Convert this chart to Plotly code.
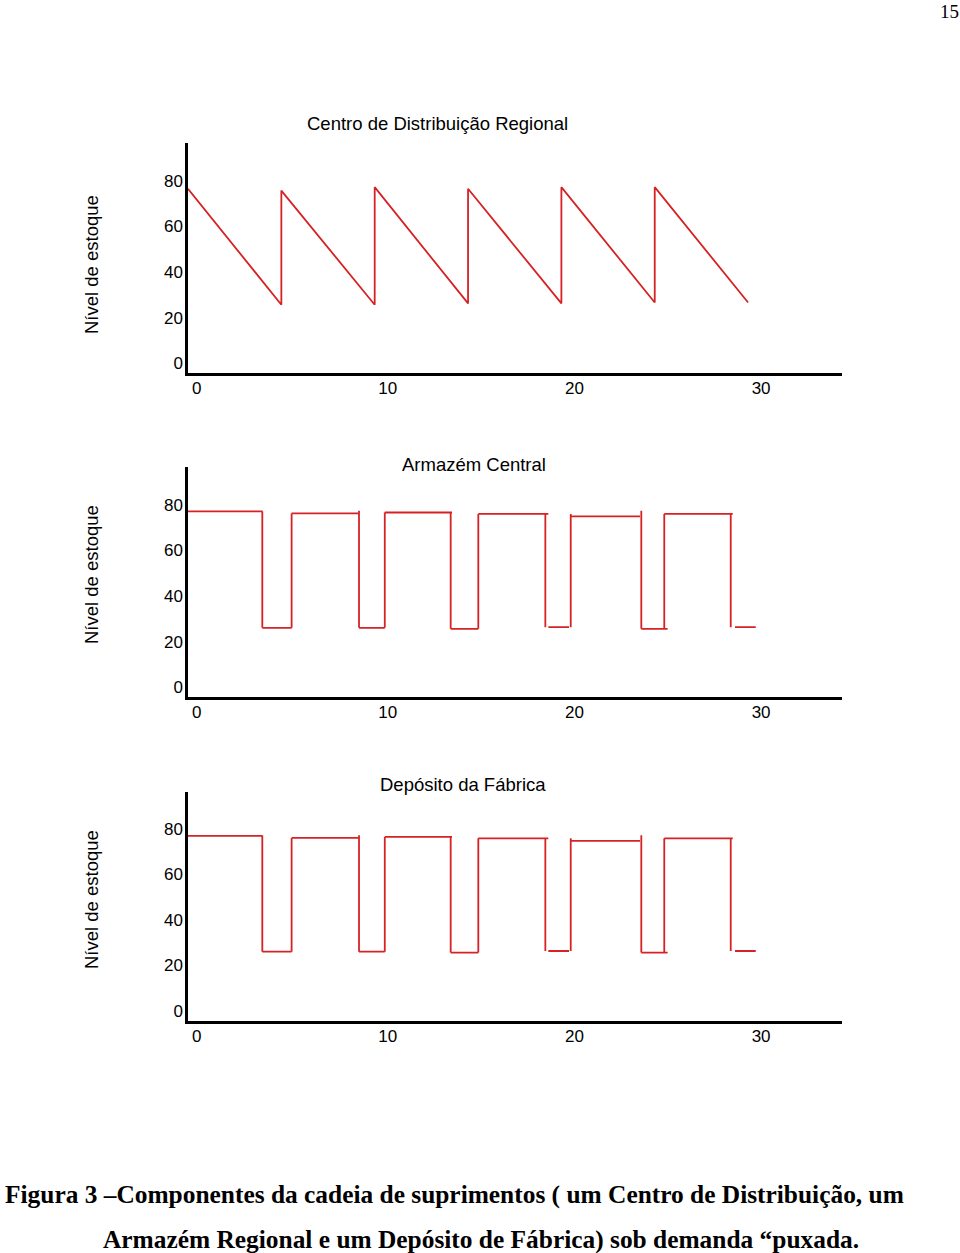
import plotly.graph_objects as go

# ---------------- data ----------------
# Panel 1: Centro de Distribuição Regional (sawtooth inventory)
cd_time = [0, 5, 5, 10, 10, 15, 15, 20, 20, 25, 25, 30]
cd_level = [80.8, 30.0, 80.0, 30.0, 81.5, 30.6, 80.8, 30.6, 81.5, 31.0, 81.5, 31.0]

# Panels 2 and 3: step inventory, drawn as hand-drawn segments (start/end of each stroke)
step_x0 = [0, 3.98, 3.98, 5.55, 5.55, 9.16, 9.16, 10.54, 10.54, 14.07, 14.07, 15.55,
           15.55, 19.14, 19.3, 20.5, 20.5, 24.28, 24.28, 25.51, 25.51, 29.07, 29.3]
step_x1 = [4.0, 3.98, 5.55, 5.55, 9.14, 9.16, 10.54, 10.54, 14.14, 14.07, 15.55, 15.55,
           19.3, 19.14, 20.41, 20.5, 24.21, 24.28, 25.69, 25.51, 29.18, 29.07, 30.41]
step_y0 = [81.4, 81.4, 30.4, 30.4, 80.5, 81.7, 30.4, 30.4, 80.9, 80.9, 30.0, 30.0,
           80.3, 80.3, 30.7, 30.7, 79.2, 81.7, 30.0, 30.0, 80.3, 80.3, 30.7]
step_y1 = [81.4, 30.4, 30.4, 80.5, 80.5, 30.4, 30.4, 80.9, 80.9, 30.0, 30.0, 80.3,
           80.3, 30.7, 30.7, 80.3, 79.2, 30.0, 30.0, 80.3, 80.3, 30.7, 30.7]

panel_titles = ["Centro de Distribuição Regional", "Armazém Central", "Depósito da Fábrica"]
y_title = "Nível de estoque"
x_ticks = [0, 10, 20, 30]
x_ticktext = ["0\u2002", "10", "20", "30"]
y_ticks = [0, 20, 40, 60, 80]

caption_1 = "Figura 3 –Componentes da cadeia de suprimentos ( um Centro de Distribuição, um"
caption_2 = "Armazém Regional e um Depósito de Fábrica) sob demanda “puxada."
page_number = "15"

# ---------------- figure ----------------
W, H = 960, 1253
RED = "rgb(214,34,36)"


def px_x(p):
    return p / W


def px_y(p):
    return 1 - p / H


def flatten(x0, x1, y0, y1):
    xs, ys = [], []
    for a, b, c, d in zip(x0, x1, y0, y1):
        xs += [a, b, None]
        ys += [c, d, None]
    return xs, ys


sx, sy = flatten(step_x0, step_x1, step_y0, step_y1)

fig = go.Figure()
fig.add_trace(go.Scatter(x=cd_time, y=cd_level, mode="lines",
                         line=dict(color=RED, width=1.8), xaxis="x", yaxis="y",
                         showlegend=False, hoverinfo="skip"))
fig.add_trace(go.Scatter(x=sx, y=sy, mode="lines", connectgaps=False,
                         line=dict(color=RED, width=1.8), xaxis="x2", yaxis="y2",
                         showlegend=False, hoverinfo="skip"))
fig.add_trace(go.Scatter(x=sx, y=sy, mode="lines", connectgaps=False,
                         line=dict(color=RED, width=1.8), xaxis="x3", yaxis="y3",
                         showlegend=False, hoverinfo="skip"))

tick_font = dict(family="Liberation Sans, Arial, sans-serif", size=17, color="black")
x_dom = [px_x(188), px_x(842)]
panels = [(143.3, 373.3), (467.3, 697.3), (792.0, 1020.7)]

layout = dict(
    width=W, height=H,
    margin=dict(l=0, r=0, t=0, b=0),
    paper_bgcolor="white", plot_bgcolor="white",
    showlegend=False,
)
for i, (top, bot) in enumerate(panels):
    sfx = "" if i == 0 else str(i + 1)
    layout["xaxis" + sfx] = dict(
        domain=x_dom, range=[0, 35.03], anchor="y" + sfx,
        showline=True, linecolor="black", linewidth=2.5,
        showgrid=False, zeroline=False, ticks="",
        tickmode="array", tickvals=x_ticks, ticktext=x_ticktext,
        tickfont=tick_font, ticklabelshift=13, ticklabelstandoff=-2,
        fixedrange=True,
    )
    layout["yaxis" + sfx] = dict(
        domain=[px_y(bot), px_y(top)], range=[0, 100.7], anchor="x" + sfx,
        showline=True, linecolor="black", linewidth=2.5,
        showgrid=False, zeroline=False, ticks="",
        tickmode="array", tickvals=y_ticks,
        tickfont=tick_font, ticklabelshift=-10, ticklabelstandoff=-1,
        fixedrange=True,
    )

title_font = dict(family="Liberation Sans, Arial, sans-serif", size=18.5, color="black")
ann = []
title_pos = [(437, 124), (474, 465), (463, 784)]
for t, (cx, cy) in zip(panel_titles, title_pos):
    ann.append(dict(text=t, x=px_x(cx), y=px_y(cy), xref="paper", yref="paper",
                    xanchor="center", yanchor="middle", showarrow=False, font=title_font))
for cy in [265, 575, 900]:
    ann.append(dict(text=y_title, x=px_x(91), y=px_y(cy), xref="paper", yref="paper",
                    xanchor="center", yanchor="middle", textangle=-90, showarrow=False,
                    font=title_font))

cap_font = dict(family="Liberation Serif, Times New Roman, serif", size=25.4, color="black")
ann.append(dict(text="<b>" + caption_1 + "</b>", x=px_x(3), y=px_y(1194), xref="paper",
                yref="paper", xanchor="left", yanchor="middle", showarrow=False, font=cap_font))
ann.append(dict(text="<b>" + caption_2 + "</b>", x=px_x(481), y=px_y(1239), xref="paper",
                yref="paper", xanchor="center", yanchor="middle", showarrow=False, font=cap_font))
ann.append(dict(text=page_number, x=px_x(949), y=px_y(12), xref="paper", yref="paper",
                xanchor="center", yanchor="middle", showarrow=False,
                font=dict(family="Liberation Serif, Times New Roman, serif", size=19, color="black")))
layout["annotations"] = ann

fig.update_layout(**layout)
fig.write_html("out.html")
